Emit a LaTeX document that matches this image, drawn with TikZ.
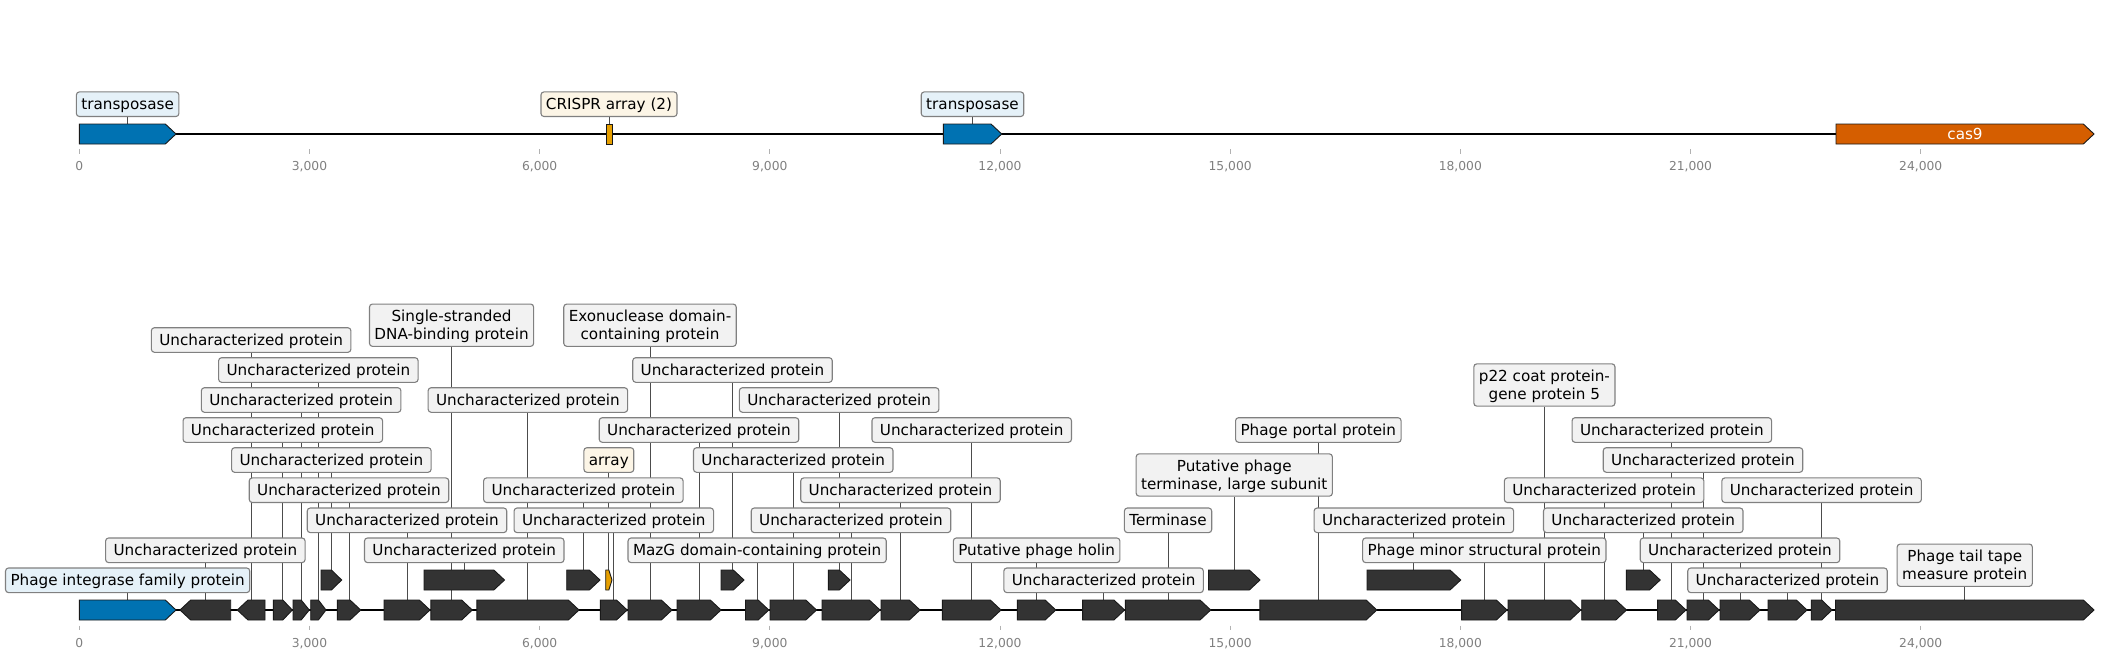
\documentclass[tikz,border=0pt]{standalone}
\usepackage{fontspec}
\setmainfont{DejaVu Sans}
\pgfdeclarelayer{bg}
\pgfsetlayers{bg,main}
\definecolor{gblueC}{HTML}{0072B2}
\definecolor{gorangeC}{HTML}{E69F00}
\definecolor{gredC}{HTML}{D55E00}
\definecolor{gdarkC}{HTML}{333333}
\definecolor{labgray}{HTML}{F2F2F2}
\definecolor{labblue}{HTML}{E5F1F8}
\definecolor{labcream}{HTML}{FCF5E6}
\definecolor{labedge}{HTML}{808080}
\definecolor{tickgray}{HTML}{808080}
\newcommand\lf{\fontsize{15.2}{17.7}\selectfont}
\newcommand\tf{\fontsize{12.3}{14}\selectfont}
\newcommand\sth{\rule{0pt}{15.6pt}}
\newcommand\std{\rule[-5pt]{0pt}{5pt}}
\newcommand\UP{\sth\std Uncharacterized protein}
% right-pointing gene: [style]{name}{x1}{x2}{ycenter}
\newcommand\geneR[5][gdark]{%
  \pgfmathsetmacro\hd{min(10.7,(#4-#3)/2)}%
  \draw[gbox,#1] (#3,#5-10) -- ({#4-\hd},#5-10) -- (#4,#5) -- ({#4-\hd},#5+10) -- (#3,#5+10) -- cycle;
  \coordinate (#2) at ({(#3+#4)/2},#5-10);}
\newcommand\geneL[5][gdark]{%
  \pgfmathsetmacro\hd{min(10.7,(#4-#3)/2)}%
  \draw[gbox,#1] (#4,#5-10) -- ({#3+\hd},#5-10) -- (#3,#5) -- ({#3+\hd},#5+10) -- (#4,#5+10) -- cycle;
  \coordinate (#2) at ({(#3+#4)/2},#5-10);}
\begin{document}
\begin{tikzpicture}[x=1pt,y=-1pt,
  gbox/.style={draw=black!90,line width=0.9pt},
  gdark/.style={fill=gdarkC},
  gblue/.style={fill=gblueC},
  gorange/.style={fill=gorangeC},
  gred/.style={fill=gredC},
  lab/.style={draw=labedge,fill=labgray,line width=1.1pt,rounded corners=3pt,
    inner xsep=5pt,inner ysep=2pt,font=\lf,align=center},
  uc/.style={lab,minimum width=199.5pt},
  blab/.style={lab,fill=labblue},
  clab/.style={lab,fill=labcream},
  conn/.style={draw=black!70,line width=0.9pt},
  axisline/.style={draw=black,line width=1.6pt},
  tickmark/.style={draw=gray!60,line width=0.8pt},
  ticklab/.style={font=\tf,text=tickgray,anchor=base,inner sep=0pt}]
\useasboundingbox (0,0) rectangle (2104,659);

% ---------- top track ----------
\coordinate (ta0) at (79.3,134);
\coordinate (ta1) at (2094,134);
\geneR[gblue]{T1}{79.3}{176}{134}
\draw[gbox,gorange] (606,124) rectangle (612,144);
\coordinate (T2) at (609,124);
\geneR[gblue]{T3}{943.3}{1001.7}{134}
\geneR[gred]{T4}{1836}{2094}{134}
\node[font=\lf,text=white] (cas9) at (1965,134) {cas9};

\node[blab] (tl1) at (T1 |- 0,104.2) {\sth\std transposase};
\node[clab] (tl2) at (T2 |- 0,104.2) {\sth\std CRISPR array (2)};
\node[blab] (tl3) at (T3 |- 0,104.2) {\sth\std transposase};

% ---------- bottom track ----------
\coordinate (ba0) at (79.3,610);
\coordinate (ba1) at (2094,610);
\geneR[gblue]{G1}{79.3}{176}{610}
\geneL{G2}{180}{230.7}{610}
\geneL{G3}{237.3}{265}{610}
\geneR{G4}{273.3}{292.3}{610}
\geneR{G5}{293}{309.3}{610}
\geneR{G6}{310.7}{326}{610}
\geneR{G7}{337.3}{360.7}{610}
\geneR{G8}{384}{430}{610}
\geneR{G9}{430.8}{472.3}{610}
\geneR{G10}{476.8}{579}{610}
\geneR{G11}{600.4}{627.2}{610}
\geneR{G12}{628}{672}{610}
\geneR{G13}{677}{721}{610}
\geneR{G14}{745.5}{768.8}{610}
\geneR{G15}{770}{816.5}{610}
\geneR{G16}{822}{880}{610}
\geneR{G17}{881}{920}{610}
\geneR{G18}{942.4}{1001}{610}
\geneR{G19}{1017.4}{1055.8}{610}
\geneR{G20}{1082.6}{1124.6}{610}
\geneR{G21}{1125.4}{1210.7}{610}
\geneR{G22}{1259.8}{1376.8}{610}
\geneR{G23}{1461.6}{1507}{610}
\geneR{G24}{1508}{1580.8}{610}
\geneR{G25}{1581.7}{1626.5}{610}
\geneR{G26}{1657.6}{1686}{610}
\geneR{G27}{1687}{1719}{610}
\geneR{G28}{1720}{1760}{610}
\geneR{G29}{1768}{1807}{610}
\geneR{G30}{1811.2}{1832}{610}
\geneR{G31}{1835.5}{2094}{610}
% upper row
\geneR{Ua}{321}{341.7}{580}
\geneR{Ub}{424}{504.5}{580}
\geneR{Uc}{566.7}{600}{580}
\geneR[gorange]{Ud}{605.7}{612}{580}
\geneR{Ue}{721}{744}{580}
\geneR{Uf}{828.3}{850}{580}
\geneR{Ug}{1208.5}{1260}{580}
\geneR{Uh}{1367}{1460.7}{580}
\geneR{Ui}{1626.3}{1660.2}{580}

% labels
\node[blab] (l1) at (G1 |- 0,580.3) {\sth\std Phage integrase family protein};
\node[uc] (l2) at (G2 |- 0,550.3) {\UP};
\node[uc] (l3) at (G3 |- 0,340) {\UP};
\node[uc] (l4) at (G4 |- 0,430) {\UP};
\node[uc] (l5) at (G5 |- 0,400) {\UP};
\node[uc] (l6) at (G6 |- 0,370) {\UP};
\node[uc] (l7) at (Ua |- 0,460) {\UP};
\node[uc] (l8) at (G7 |- 0,490.2) {\UP};
\node[uc] (l9) at (G8 |- 0,520.3) {\UP};
\node[lab] (l10) at (G9 |- 0,325.2) {\sth Single-stranded\\DNA-binding protein\std};
\node[uc] (l11) at (Ub |- 0,550.3) {\UP};
\node[uc] (l12) at (G10 |- 0,400) {\UP};
\node[uc] (l13) at (Uc |- 0,490.2) {\UP};
\node[clab] (l14) at (Ud |- 0,460) {\sth\std array};
\node[uc] (l15) at (G11 |- 0,520.3) {\UP};
\node[lab] (l16) at (G12 |- 0,325.2) {\sth Exonuclease domain-\\containing protein\std};
\node[uc] (l17) at (G13 |- 0,430) {\UP};
\node[uc] (l18) at (Ue |- 0,370) {\UP};
\node[lab] (l19) at (G14 |- 0,550.3) {\sth\std MazG domain-containing protein};
\node[uc] (l20) at (G15 |- 0,460) {\UP};
\node[uc] (l21) at (Uf |- 0,400) {\UP};
\node[uc] (l22) at (G16 |- 0,520.3) {\UP};
\node[uc] (l23) at (G17 |- 0,490.2) {\UP};
\node[uc] (l24) at (G18 |- 0,430) {\UP};
\node[lab] (l25) at (G19 |- 0,550.3) {\sth\std Putative phage holin};
\node[uc] (l26) at (G20 |- 0,580.3) {\UP};
\node[lab] (l27) at (G21 |- 0,520.3) {\sth\std Terminase};
\node[lab] (l28) at (Ug |- 0,475) {\sth Putative phage\\terminase, large subunit\std};
\node[lab] (l29) at (G22 |- 0,430) {\sth\std Phage portal protein};
\node[uc] (l30) at (Uh |- 0,520.3) {\UP};
\node[lab] (l31) at (G23 |- 0,550.3) {\sth\std Phage minor structural protein};
\node[lab] (l32) at (G24 |- 0,385) {\sth p22 coat protein-\\gene protein 5\std};
\node[uc] (l33) at (G25 |- 0,490.2) {\UP};
\node[uc] (l34) at (Ui |- 0,520.3) {\UP};
\node[uc] (l35) at (G26 |- 0,430) {\UP};
\node[uc] (l36) at (G27 |- 0,460) {\UP};
\node[uc] (l37) at (G28 |- 0,550.3) {\UP};
\node[uc] (l38) at (G29 |- 0,580.3) {\UP};
\node[uc] (l39) at (G30 |- 0,490.2) {\UP};
\node[lab] (l40) at (G31 |- 0,565.2) {\sth Phage tail tape\\measure protein\std};

% axis ticks
\foreach \i/\t in {0/0,1/{3,000},2/{6,000},3/{9,000},4/{12,000},5/{15,000},6/{18,000},7/{21,000},8/{24,000}}{
  \pgfmathsetmacro\xx{79.3+\i*230.175}
  \draw[tickmark] (\xx,149.3) -- (\xx,154);
  \node[ticklab] (tt\i) at (\xx,170.7) {\t};
  \draw[tickmark] (\xx,625.7) -- (\xx,630);
  \node[ticklab] (bt\i) at (\xx,647) {\t};
}

\begin{pgfonlayer}{bg}
  \draw[axisline] (ta0) -- (ta1);
  \draw[axisline] (ba0) -- (ba1);
  \foreach \a/\b in {tl1/T1,tl2/T2,tl3/T3}
    \draw[conn] (\a.south) -- (\b);
  \foreach \a/\b in {l1/G1,l2/G2,l3/G3,l4/G4,l5/G5,l6/G6,l7/Ua,l8/G7,l9/G8,l10/G9,
      l11/Ub,l12/G10,l13/Uc,l14/Ud,l15/G11,l16/G12,l17/G13,l18/Ue,l19/G14,l20/G15,
      l21/Uf,l22/G16,l23/G17,l24/G18,l25/G19,l26/G20,l27/G21,l28/Ug,l29/G22,l30/Uh,
      l31/G23,l32/G24,l33/G25,l34/Ui,l35/G26,l36/G27,l37/G28,l38/G29,l39/G30,l40/G31}
    \draw[conn] (\a.south) -- (\b);
\end{pgfonlayer}
\end{tikzpicture}
\end{document}
